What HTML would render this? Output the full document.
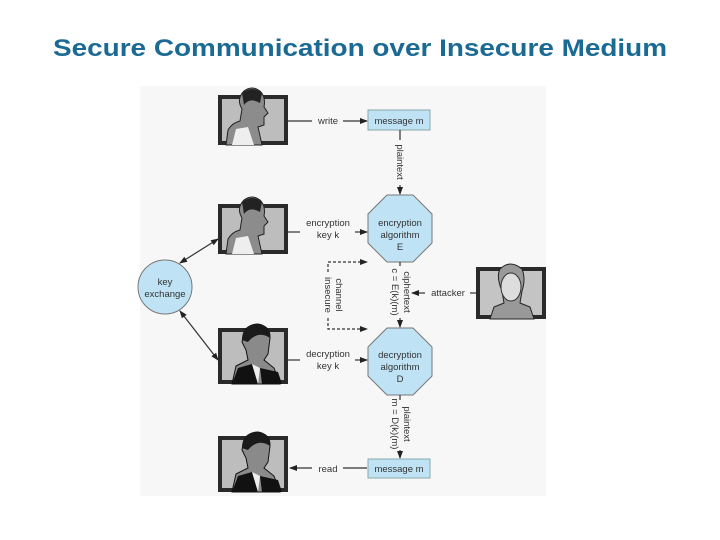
<!DOCTYPE html>
<html><head><meta charset="utf-8"><style>
html,body{margin:0;padding:0;background:#fff;}
svg{display:block;font-family:"Liberation Sans",sans-serif;}
</style></head><body>
<svg width="720" height="540" viewBox="0 0 720 540" xmlns="http://www.w3.org/2000/svg">
<defs>
<marker id="a" markerWidth="8" markerHeight="8" refX="7" refY="4" orient="auto" markerUnits="userSpaceOnUse"><path d="M0,1 L8,4 L0,7 z" fill="#222"/></marker>
<marker id="as" markerWidth="8" markerHeight="8" refX="1" refY="4" orient="auto" markerUnits="userSpaceOnUse"><path d="M8,1 L0,4 L8,7 z" fill="#222"/></marker>
<g id="man1">
<rect x="0" y="0" width="70" height="50" fill="#2a2a2a"/>
<rect x="4" y="4" width="62" height="42" fill="#bdbdbd"/>
<path d="M8,50 L10,35 Q14,28 22,26 L24,14 Q18,4 26,-4 Q34,-10 42,-4 Q48,2 46,12 L50,18 L46,22 L46,30 L40,32 L44,50 z" fill="#8c8c8c" stroke="#222" stroke-width="1"/>
<path d="M24,-2 Q34,-10 44,-2 L42,8 Q32,2 26,10 z" fill="#222"/>
<path d="M14,50 L18,34 L30,32 L36,50 z" fill="#eee"/>
</g>
<g id="man2">
<rect x="0" y="0" width="70" height="56" fill="#2a2a2a"/>
<rect x="4" y="4" width="62" height="48" fill="#bdbdbd"/>
<path d="M14,56 L18,38 L30,32 L28,22 L24,14 Q26,-4 40,-4 Q52,-2 52,10 L50,26 L46,32 L56,40 L62,56 z" fill="#8a8a8a" stroke="#111" stroke-width="1"/>
<path d="M24,12 Q24,-4 40,-4 Q54,-2 52,10 Q40,2 30,14 z" fill="#1a1a1a"/>
<path d="M14,56 L20,40 L34,36 L40,56 z M42,40 L60,44 L64,56 L44,56z" fill="#111"/>
<path d="M34,36 L40,56 L42,40z" fill="#eee"/>
</g>
</defs>
<text x="360" y="56" text-anchor="middle" font-size="24" font-weight="bold" fill="#1b6a93" textLength="614" lengthAdjust="spacingAndGlyphs">Secure Communication over Insecure Medium</text>
<rect x="140" y="86" width="406" height="410" fill="#f7f7f7"/>

<use href="#man1" x="218" y="95"/>
<use href="#man1" x="218" y="204"/>
<use href="#man2" x="218" y="328"/>
<use href="#man2" x="218" y="436"/>
<g transform="translate(476,267)">
<rect x="0" y="0" width="70" height="52" fill="#2a2a2a"/>
<rect x="4" y="4" width="62" height="44" fill="#c4c4c4"/>
<path d="M14,52 L18,40 L28,36 L26,24 Q20,10 24,2 Q34,-8 46,2 Q50,12 46,24 L44,36 L54,40 L58,52z" fill="#999" stroke="#222"/>
<ellipse cx="35" cy="20" rx="10" ry="14" fill="#ddd" stroke="#333"/>
</g>

<rect x="368" y="110" width="62" height="20" fill="#bfe3f5" stroke="#8aa"/>
<text x="399" y="124" text-anchor="middle" font-size="9.5" fill="#333">message m</text>
<rect x="368" y="459" width="62" height="19" fill="#bfe3f5" stroke="#8aa"/>
<text x="399" y="472" text-anchor="middle" font-size="9.5" fill="#333">message m</text>

<polygon points="387,195 413,195 432,214 432,243 413,262 387,262 368,243 368,214" fill="#bfe3f5" stroke="#777"/>
<text x="400" y="226" text-anchor="middle" font-size="9.5" fill="#333">encryption</text>
<text x="400" y="238" text-anchor="middle" font-size="9.5" fill="#333">algorithm</text>
<text x="400" y="250" text-anchor="middle" font-size="9.5" fill="#333">E</text>
<polygon points="387,328 413,328 432,347 432,376 413,395 387,395 368,376 368,347" fill="#bfe3f5" stroke="#777"/>
<text x="400" y="358" text-anchor="middle" font-size="9.5" fill="#333">decryption</text>
<text x="400" y="370" text-anchor="middle" font-size="9.5" fill="#333">algorithm</text>
<text x="400" y="382" text-anchor="middle" font-size="9.5" fill="#333">D</text>

<circle cx="165" cy="287" r="27" fill="#bfe3f5" stroke="#777"/>
<text x="165" y="285" text-anchor="middle" font-size="9.5" fill="#333">key</text>
<text x="165" y="297" text-anchor="middle" font-size="9.5" fill="#333">exchange</text>

<g stroke="#333" stroke-width="1.2" fill="none">
<line x1="288" y1="121" x2="312" y2="121"/><line x1="343" y1="121" x2="367" y2="121" marker-end="url(#a)"/>
<line x1="288" y1="232" x2="300" y2="232"/><line x1="355" y1="232" x2="367" y2="232" marker-end="url(#a)"/>
<line x1="288" y1="360" x2="300" y2="360"/><line x1="355" y1="360" x2="367" y2="360" marker-end="url(#a)"/>
<line x1="313" y1="468" x2="290" y2="468" marker-end="url(#a)"/><line x1="343" y1="468" x2="367" y2="468"/>
<line x1="400" y1="130" x2="400" y2="140"/><line x1="400" y1="185" x2="400" y2="194" marker-end="url(#a)"/>
<line x1="400" y1="262" x2="400" y2="266"/><line x1="400" y1="318" x2="400" y2="327" marker-end="url(#a)"/>
<line x1="400" y1="395" x2="400" y2="400"/><line x1="400" y1="450" x2="400" y2="458" marker-end="url(#a)"/>
<line x1="476" y1="293" x2="470" y2="293"/><line x1="425" y1="293" x2="412" y2="293" marker-end="url(#a)"/>
<line x1="180" y1="263" x2="218" y2="239" marker-start="url(#as)" marker-end="url(#a)"/>
<line x1="180" y1="311" x2="218" y2="360" marker-start="url(#as)" marker-end="url(#a)"/>
<path d="M328,272 L328,262 L367,262" stroke-dasharray="3,2" marker-end="url(#a)"/>
<path d="M328,318 L328,329 L367,329" stroke-dasharray="3,2" marker-end="url(#a)"/>
</g>
<g font-size="9.5" fill="#333">
<text x="328" y="124" text-anchor="middle">write</text>
<text x="328" y="127" text-anchor="middle">read</text>
<text x="328" y="226" text-anchor="middle">encryption</text>
<text x="328" y="238" text-anchor="middle">key k</text>
<text x="328" y="357" text-anchor="middle">decryption</text>
<text x="328" y="369" text-anchor="middle">key k</text>
<text x="448" y="296" text-anchor="middle">attacker</text>
<text transform="translate(397,162) rotate(90)" text-anchor="middle">plaintext</text>
<text transform="translate(404,292) rotate(90)" text-anchor="middle">ciphertext</text>
<text transform="translate(392,292) rotate(90)" text-anchor="middle">c = E(k)(m)</text>
<text transform="translate(404,424) rotate(90)" text-anchor="middle">plaintext</text>
<text transform="translate(392,424) rotate(90)" text-anchor="middle">m = D(k)(m)</text>
<text transform="translate(325,295) rotate(90)" text-anchor="middle">insecure</text>
<text transform="translate(336,295) rotate(90)" text-anchor="middle">channel</text>
</g>
<rect x="312" y="462" width="30" height="12" fill="#f7f7f7"/>
<text x="328" y="472" text-anchor="middle" font-size="9.5" fill="#333">read</text>
<rect x="312" y="115" width="30" height="12" fill="#f7f7f7"/>
<text x="328" y="124" text-anchor="middle" font-size="9.5" fill="#333">write</text>
</svg>
</body></html>
